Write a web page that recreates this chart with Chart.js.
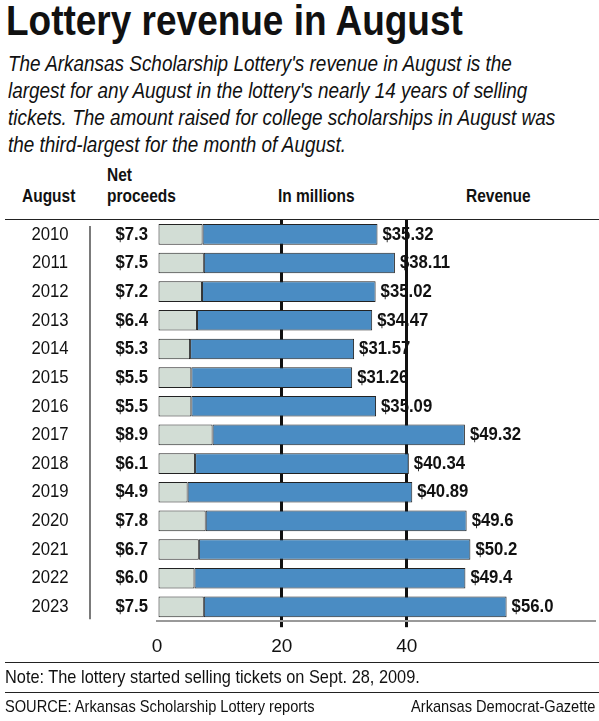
<!DOCTYPE html>
<html lang="en">
<head>
<meta charset="UTF-8">
<title>Lottery revenue in August</title>
<script src="https://cdn.jsdelivr.net/npm/chart.js"></script>
<style>
  body { margin: 0; width: 599px; height: 721px; position: relative; background: #fff; font-family: "Liberation Sans Narrow", "Liberation Sans", sans-serif; color: #111; overflow: hidden; }
  .t { position: absolute; white-space: nowrap; transform: scaleX(0.86); transform-origin: left top; }
  .r { transform-origin: right top; }
  .rule { position: absolute; left: 5px; right: 0; border-top: 1.5px solid #222; }
  #wrap { position: absolute; left: 0; top: 220px; width: 599px; height: 446px; }
</style>
</head>
<body>
<div class="t" style="left:6px;top:-4px;font-size:43px;font-weight:bold;">Lottery revenue in August</div>
<div class="t" style="left:8px;top:50px;font-size:22px;font-style:italic;line-height:27px;">
The Arkansas Scholarship Lottery's revenue in August is the<br>
largest for any August in the lottery's nearly 14 years of selling<br>
tickets. The amount raised for college scholarships in August was<br>
the third-largest for the month of August.</div>
<div class="t" style="left:22px;top:186px;font-size:18px;font-weight:bold;">August</div>
<div class="t" style="left:107px;top:165px;font-size:18px;font-weight:bold;line-height:21px;">Net<br>proceeds</div>
<div class="t" style="left:278px;top:186px;font-size:18px;font-weight:bold;">In millions</div>
<div class="t" style="left:466px;top:186px;font-size:18px;font-weight:bold;">Revenue</div>
<div class="rule" style="top:219px;"></div>
<div id="wrap"><canvas id="lotteryChart"></canvas></div>
<div class="rule" style="top:662px;"></div>
<div class="t" style="left:5px;top:666px;font-size:19px;">Note: The lottery started selling tickets on Sept. 28, 2009.</div>
<div class="rule" style="top:692px;"></div>
<div class="t" style="left:5px;top:697px;font-size:17px;">SOURCE: Arkansas Scholarship Lottery reports</div>
<div class="t r" style="right:4px;top:697px;font-size:17px;">Arkansas Democrat-Gazette</div>
<script>
  const years = ['2010', '2011', '2012', '2013', '2014', '2015', '2016', '2017', '2018', '2019', '2020', '2021', '2022', '2023'];
  const netProceeds = [7.3, 7.5, 7.2, 6.4, 5.3, 5.5, 5.5, 8.9, 6.1, 4.9, 7.8, 6.7, 6.0, 7.5];
  const revenue = [35.32, 38.11, 35.02, 34.47, 31.57, 31.26, 35.09, 49.32, 40.34, 40.89, 49.6, 50.2, 49.4, 56.0];
  const netLabels = ['$7.3', '$7.5', '$7.2', '$6.4', '$5.3', '$5.5', '$5.5', '$8.9', '$6.1', '$4.9', '$7.8', '$6.7', '$6.0', '$7.5'];
  const revLabels = ['$35.32', '$38.11', '$35.02', '$34.47', '$31.57', '$31.26', '$35.09', '$49.32', '$40.34', '$40.89', '$49.6', '$50.2', '$49.4', '$56.0'];
  const xTicks = [0, 20, 40];

  const FONT = '"Liberation Sans Narrow", "Liberation Sans", sans-serif';

  // draw text horizontally condensed like the print font
  function narrowText(c, txt, x, y, align) {
    c.save();
    c.translate(x, y);
    c.scale(0.88, 1);
    c.textAlign = align;
    c.fillText(txt, 0, 0);
    c.restore();
  }

  // year column, net proceeds column and revenue labels
  const labelPlugin = {
    id: 'labels',
    afterDatasetsDraw(chart) {
      const c = chart.ctx;
      const y = chart.scales.y, x = chart.scales.x;
      c.save();
      c.textBaseline = 'middle';
      c.fillStyle = '#111';
      years.forEach((yr, i) => {
        const py = y.getPixelForValue(i);
        c.font = '19px ' + FONT;
        narrowText(c, yr, 50, py, 'center');
        c.font = 'bold 19px ' + FONT;
        narrowText(c, netLabels[i], 148, py, 'right');
        narrowText(c, revLabels[i], x.getPixelForValue(revenue[i]) + 5, py, 'left');
      });
      c.strokeStyle = '#222';
      c.lineWidth = 1.2;
      c.beginPath();
      c.moveTo(90, chart.chartArea.top + 6);
      c.lineTo(90, chart.chartArea.bottom - 2);
      c.stroke();
      c.restore();
    }
  };

  new Chart(document.getElementById('lotteryChart'), {
    type: 'bar',
    data: {
      labels: years,
      datasets: [{
        label: 'Net proceeds',
        data: netProceeds.map(v => [0, v]),
        backgroundColor: '#d2ddd5',
        borderColor: '#222',
        borderWidth: 1,
        borderSkipped: false
      }, {
        label: 'Revenue',
        data: netProceeds.map((v, i) => [v, revenue[i]]),
        backgroundColor: '#4a8cc3',
        borderColor: '#222',
        borderWidth: 1,
        borderSkipped: false
      }]
    },
    options: {
      indexAxis: 'y',
      responsive: true,
      maintainAspectRatio: false,
      animation: false,
      layout: { padding: { left: 157, right: 5, top: 0, bottom: 0 } },
      plugins: { legend: { display: false }, tooltip: { enabled: false } },
      scales: {
        y: {
          display: false,
          stacked: true,
          offset: true,
          grid: { display: false }
        },
        x: {
          min: 0,
          max: 70,
          z: -1,
          grid: {
            drawTicks: true,
            tickLength: 6,
            color: ctx => (ctx.tick && (ctx.tick.value === 20 || ctx.tick.value === 40)) ? '#111' : 'rgba(0,0,0,0)',
            lineWidth: 3
          },
          border: { display: true, color: '#999', width: 2 },
          afterBuildTicks: axis => { axis.ticks = xTicks.map(v => ({ value: v })); },
          ticks: { color: '#111', font: { size: 19, family: FONT }, padding: 8 }
        }
      },
      datasets: { bar: { categoryPercentage: 1, barPercentage: 0.72, grouped: false } }
    },
    plugins: [labelPlugin]
  });
</script>
</body>
</html>
